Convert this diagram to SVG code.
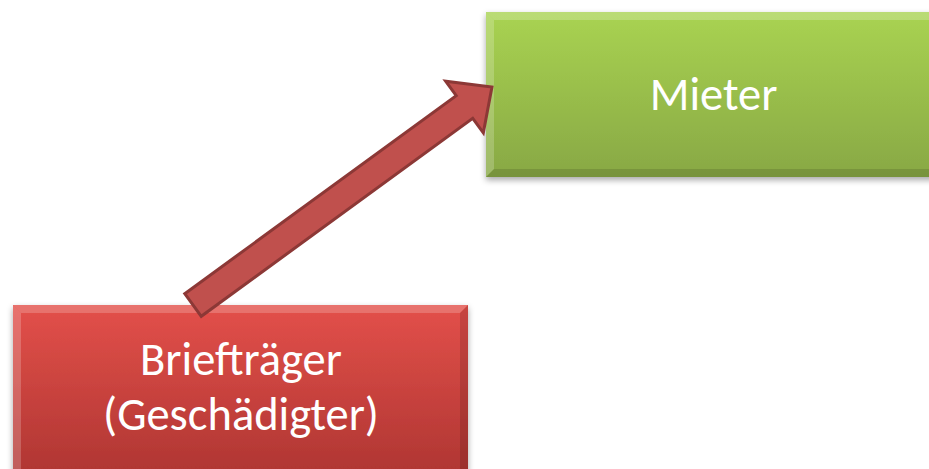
<svg xmlns="http://www.w3.org/2000/svg" width="929" height="469" viewBox="0 0 929 469">
  <style>
    .label { font-family: Calibri, Carlito, "Open Sans", "Noto Sans", sans-serif; fill: #ffffff; text-anchor: middle; font-size: 46.5px; }
    .hl { fill: #ffffff; opacity: 0.2; }
    .sh { fill: #000000; opacity: 0.12; }
    .arrow { fill: #C0504D; stroke: #8C3836; stroke-width: 3; stroke-linejoin: miter; }
  </style>
  <defs>
    <linearGradient id="gRed" x1="0" y1="0" x2="0" y2="1">
      <stop offset="0" stop-color="#E3504A"/>
      <stop offset="1" stop-color="#AC3431"/>
    </linearGradient>
    <linearGradient id="gGreen" x1="0" y1="0" x2="0" y2="1">
      <stop offset="0" stop-color="#A9D352"/>
      <stop offset="1" stop-color="#88A844"/>
    </linearGradient>
    <filter id="shadow" x="-10%" y="-10%" width="120%" height="130%">
      <feDropShadow dx="0" dy="3" stdDeviation="3" flood-color="#000000" flood-opacity="0.35"/>
    </filter>
  </defs>

  <!-- Mieter -->
  <g id="node-mieter">
    <rect x="486" y="12" width="455" height="165" fill="url(#gGreen)" filter="url(#shadow)"/>
    <polygon class="hl" points="486,12 941,12 933,20 494,20"/>
    <polygon class="hl" points="486,12 494,20 494,169 486,177" opacity="0.1"/>
    <polygon class="sh" points="486,177 494,169 933,169 941,177"/>
    <text class="label" x="713.5" y="110">Mieter</text>
  </g>

  <!-- Briefträger -->
  <g id="node-brieftraeger">
    <rect x="13" y="305" width="455" height="180" fill="url(#gRed)" filter="url(#shadow)"/>
    <polygon class="hl" points="13,305 468,305 460,313 21,313"/>
    <polygon class="hl" points="13,305 21,313 21,477 13,485" opacity="0.1"/>
    <polygon class="sh" points="468,305 468,485 460,477 460,313" opacity="0.08"/>
    <text class="label" x="241" y="375">Briefträger</text>
    <text class="label" x="241" y="430">(Geschädigter)</text>
  </g>

  <!-- connectors -->
  <g id="connectors">
    <polygon class="arrow" transform="translate(193,305) rotate(-36.1)"
             points="0,-14 336,-14 336,-32 370,0 336,32 336,14 0,14"/>
  </g>
</svg>
